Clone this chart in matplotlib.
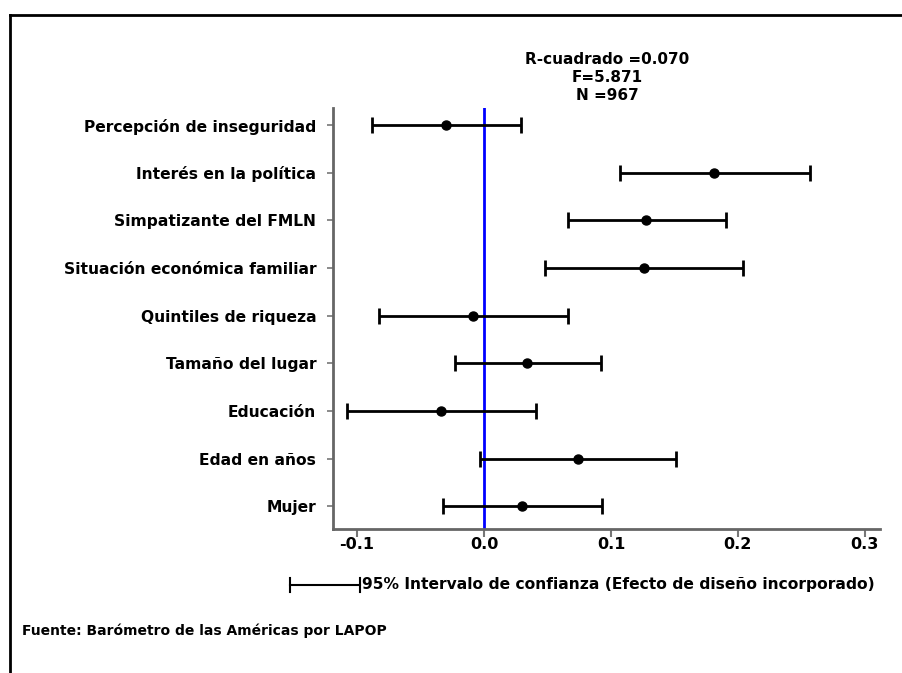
import matplotlib.pyplot as plt
from matplotlib.lines import Line2D

# data
variables = ["Percepción de inseguridad", "Interés en la política", "Simpatizante del FMLN",
             "Situación económica familiar", "Quintiles de riqueza", "Tamaño del lugar",
             "Educación", "Edad en años", "Mujer"]
coef = [-0.030, 0.181, 0.128, 0.126, -0.009, 0.034, -0.034, 0.074, 0.030]
ci_low = [-0.088, 0.107, 0.066, 0.048, -0.083, -0.023, -0.108, -0.003, -0.032]
ci_high = [0.029, 0.257, 0.191, 0.204, 0.066, 0.092, 0.041, 0.151, 0.093]
xticks = [-0.1, 0.0, 0.1, 0.2, 0.3]
stats_text = "R-cuadrado =0.070\nF=5.871\nN =967"
legend_text = "95% Intervalo de confianza (Efecto de diseño incorporado)"
source_text = "Fuente: Barómetro de las Américas por LAPOP"

plt.rcParams['font.family'] = ['DejaVu Sans']
plt.rcParams['font.weight'] = 'bold'

W, H = 903, 673
fig = plt.figure(figsize=(W / 100, H / 100), dpi=100)
ax = fig.add_axes([333 / W, 1 - 529 / H, (880 - 333) / W, (529 - 108) / H])

n = len(variables)
ypos = [n - 1 - i for i in range(n)]
xerr = [[c - l for c, l in zip(coef, ci_low)], [h - c for c, h in zip(coef, ci_high)]]

ax.axvline(0, color='#0000ff', lw=2, zorder=1)
ax.errorbar(coef, ypos, xerr=xerr, fmt='o', color='black', ms=6.5, elinewidth=2,
            capsize=6, capthick=2, zorder=3)

ax.set_xlim(-0.119, 0.312)
ax.set_ylim(-0.48, n - 1 + 0.36)
ax.set_xticks(xticks)
ax.set_xticklabels([f"{t:.1f}" for t in xticks], fontsize=11.5, fontweight='bold')
ax.set_yticks(ypos)
ax.set_yticklabels(variables, fontsize=11.2, fontweight='bold')
ax.tick_params(axis='x', length=6, width=1.5, color='#777777', pad=0)
ax.tick_params(axis='y', length=4, width=1.2, color='#777777', pad=8)
for s in ['top', 'right']:
    ax.spines[s].set_visible(False)
for s in ['left', 'bottom']:
    ax.spines[s].set_color('#666666')
    ax.spines[s].set_linewidth(2)

# stats box above the plot
fig.text(607 / W, 1 - 52 / H, stats_text, ha='center', va='top', fontsize=11,
         fontweight='bold', linespacing=1.25)

# legend: one error bar sample plus text
ly = 1 - 585 / H
fig.add_artist(Line2D([290 / W, 360 / W], [ly, ly], color='black', lw=1.5))
for xx in [290, 360]:
    fig.add_artist(Line2D([xx / W, xx / W], [ly - 7 / H, ly + 7 / H], color='black', lw=1.5))
fig.text(362 / W, ly, legend_text, ha='left', va='center', fontsize=11.2, fontweight='bold')

fig.text(22 / W, 1 - 631 / H, source_text, ha='left', va='center', fontsize=10,
         fontweight='bold')

# outer frame, cut off at right and bottom
fig.add_artist(Line2D([10 / W, 10 / W], [0, 1 - 15 / H], color='black', lw=2))
fig.add_artist(Line2D([10 / W, 1], [1 - 15 / H, 1 - 15 / H], color='black', lw=2))

fig.savefig('out.png', dpi=100)
